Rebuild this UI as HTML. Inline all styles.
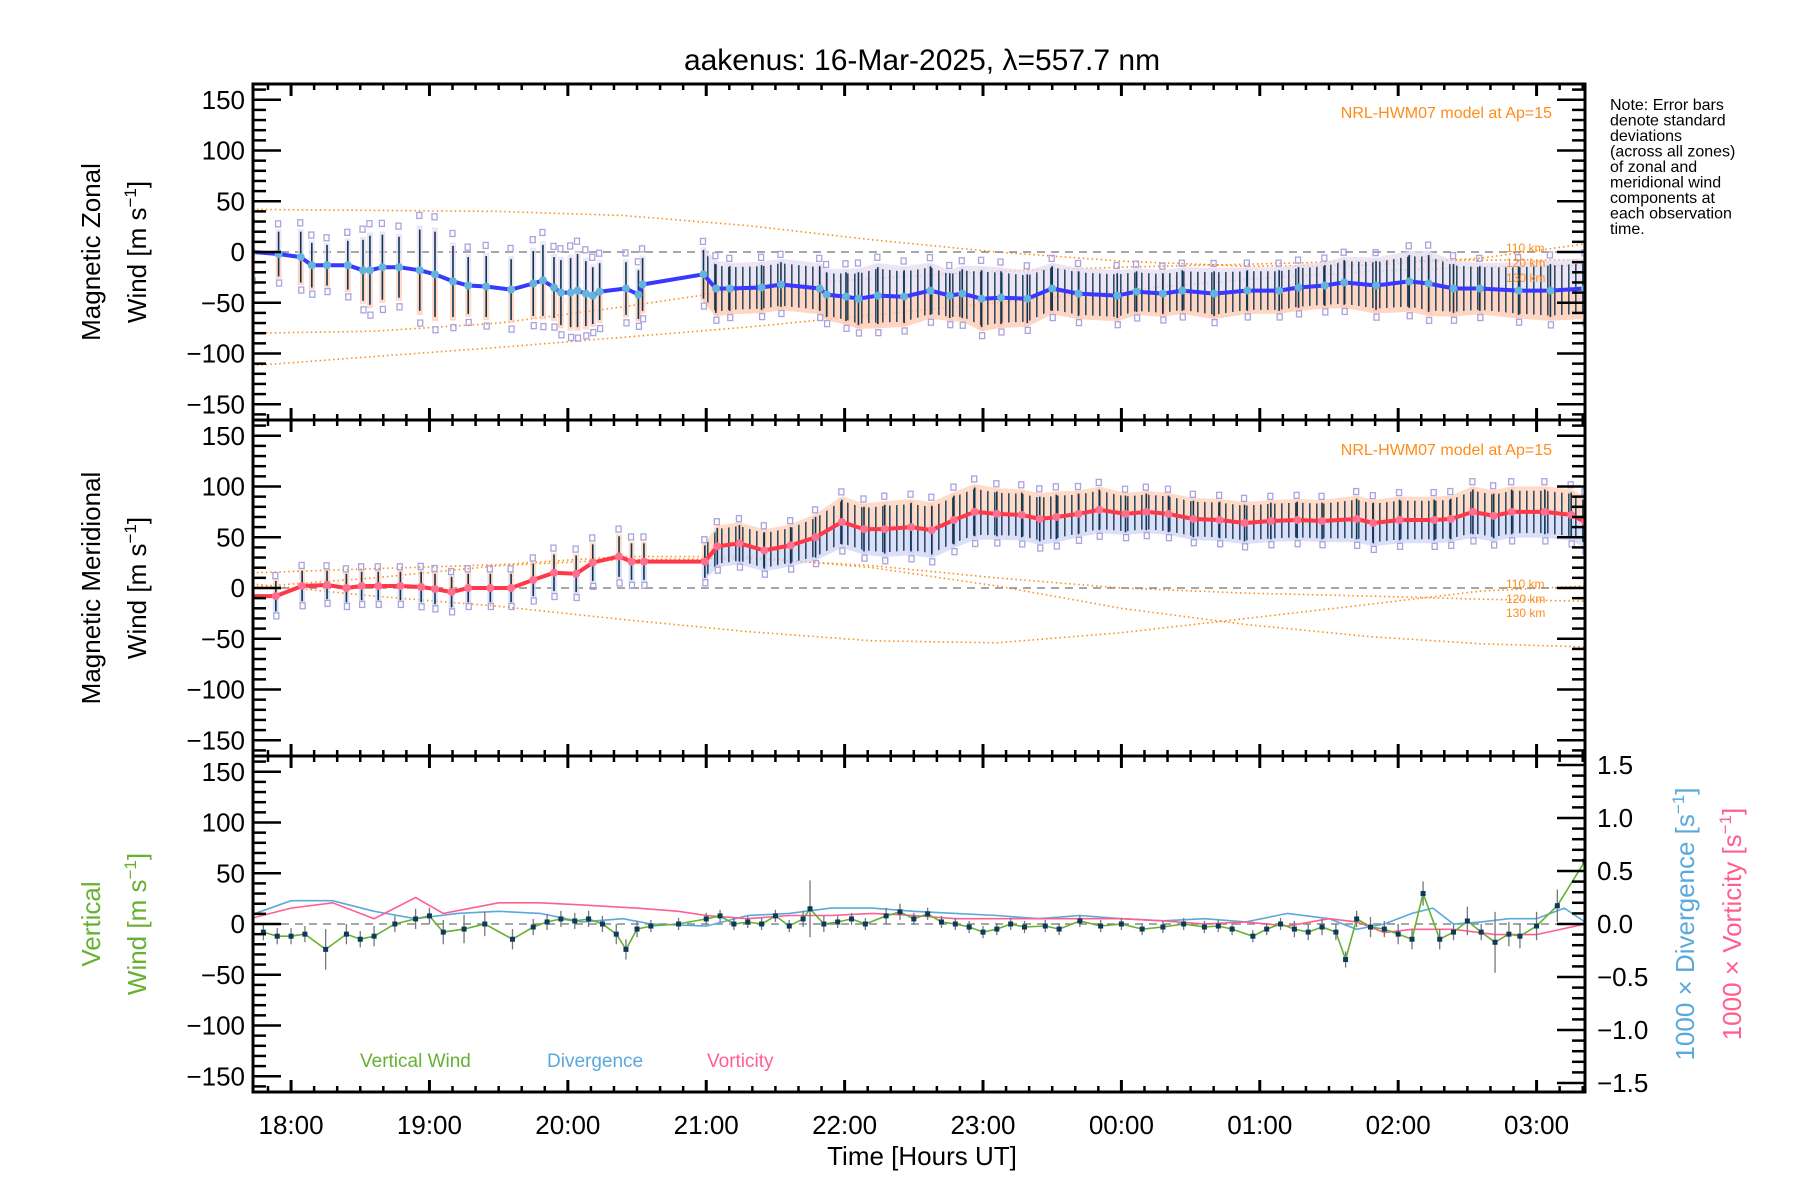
<!DOCTYPE html>
<html><head><meta charset="utf-8">
<style>
html,body{margin:0;padding:0;background:#fff;}
svg{display:block;font-family:"Liberation Sans","DejaVu Sans",sans-serif;}
</style></head>
<body>
<svg id="chart" width="1800" height="1200" viewBox="0 0 1800 1200" xmlns="http://www.w3.org/2000/svg">
<defs>
 <pattern id="barsPat" patternUnits="userSpaceOnUse" width="7" height="10">
  <rect x="0" y="0" width="1.6" height="10" fill="#0d3550"/>
 </pattern>
</defs>
<rect width="1800" height="1200" fill="#fff"/>
<text x="922" y="70" font-size="30" text-anchor="middle" fill="#000">aakenus: 16-Mar-2025, λ=557.7 nm</text>
<g id="plots"></g>
<text x="922" y="1165" font-size="26" text-anchor="middle">Time [Hours UT]</text>
<g font-size="26" text-anchor="middle">
 <text transform="translate(100,252) rotate(-90)">Magnetic Zonal</text>
 <text transform="translate(146,252) rotate(-90)">Wind [m s<tspan font-size="17" dy="-10">−1</tspan><tspan dy="10">]</tspan></text>
</g>
<g font-size="26" text-anchor="middle">
 <text transform="translate(100,588) rotate(-90)">Magnetic Meridional</text>
 <text transform="translate(146,588) rotate(-90)">Wind [m s<tspan font-size="17" dy="-10">−1</tspan><tspan dy="10">]</tspan></text>
</g>
<g font-size="26" text-anchor="middle" fill="#66b032">
 <text transform="translate(100,924) rotate(-90)">Vertical</text>
 <text transform="translate(146,924) rotate(-90)">Wind [m s<tspan font-size="17" dy="-10">−1</tspan><tspan dy="10">]</tspan></text>
</g>
<text font-size="26" text-anchor="middle" fill="#5aa9dc" transform="translate(1694,924) rotate(-90)">1000 × Divergence [s<tspan font-size="17" dy="-10">−1</tspan><tspan dy="10">]</tspan></text>
<text font-size="26" text-anchor="middle" fill="#ff5f8f" transform="translate(1741,924) rotate(-90)">1000 × Vorticity [s<tspan font-size="17" dy="-10">−1</tspan><tspan dy="10">]</tspan></text>
<g font-size="16" fill="#000">
 <text x="1610" y="110">Note: Error bars</text>
 <text x="1610" y="125.5">denote standard</text>
 <text x="1610" y="141">deviations</text>
 <text x="1610" y="156.5">(across all zones)</text>
 <text x="1610" y="172">of zonal and</text>
 <text x="1610" y="187.5">meridional wind</text>
 <text x="1610" y="203">components at</text>
 <text x="1610" y="218.5">each observation</text>
 <text x="1610" y="234">time.</text>
</g>
<text x="1552" y="118" font-size="16" text-anchor="end" fill="#ff8c1a">NRL-HWM07 model at Ap=15</text>
<text x="1552" y="455" font-size="16" text-anchor="end" fill="#ff8c1a">NRL-HWM07 model at Ap=15</text>
<g font-size="12" fill="#ff8c1a">
 <text x="1506" y="252">110 km</text><text x="1506" y="267">120 km</text><text x="1506" y="282">130 km</text>
</g>
<g font-size="12" fill="#ff8c1a">
 <text x="1506" y="588">110 km</text><text x="1506" y="603">120 km</text><text x="1506" y="617">130 km</text>
</g>
<g font-size="19">
 <text x="360" y="1067" fill="#66b032">Vertical Wind</text>
 <text x="547" y="1067" fill="#5aa9dc">Divergence</text>
 <text x="707" y="1067" fill="#ff5f8f">Vorticity</text>
</g>
</svg>
<script>
// ---------- data ----------
const hourTickLabels=["18:00","19:00","20:00","21:00","22:00","23:00","00:00","01:00","02:00","03:00"];
const hourTicks=[18,19,20,21,22,23,24,25,26,27];
const windTickValues=[150,100,50,0,-50,-100,-150];
const rightTickValues=[1.5,1.0,0.5,0.0,-0.5,-1.0,-1.5];

const zonalTimes=[17.72,17.91,18.07,18.15,18.26,18.41,18.52,18.57,18.66,18.78,18.93,19.04,19.17,19.28,19.41,19.59,19.75,19.82,19.90,19.95,20.02,20.07,20.13,20.18,20.23,20.42,20.51,20.54,20.98,21.07,21.17,21.40,21.54,21.82,21.87,22.01,22.10,22.24,22.43,22.62,22.76,22.85,22.99,23.13,23.32,23.50,23.69,23.97,24.11,24.30,24.44,24.67,24.91,25.14,25.28,25.47,25.61,25.84,26.08,26.22,26.40,26.59,26.87,27.10,27.35];
const zonalMean=[0,-2,-5,-13,-13,-13,-18,-18,-15,-15,-18,-22,-29,-33,-34,-37,-31,-28,-35,-40,-40,-38,-41,-43,-39,-36,-42,-32,-22,-36,-36,-35,-32,-36,-42,-44,-46,-43,-44,-38,-43,-41,-46,-45,-46,-36,-41,-43,-39,-41,-38,-41,-38,-38,-35,-33,-30,-33,-29,-31,-36,-36,-38,-38,-36];
const zonalSd=[22,22,25,22,20,24,30,34,32,30,40,42,35,28,30,30,32,35,30,32,34,36,32,28,28,26,24,26,24,24,22,22,22,22,22,24,26,28,26,24,22,24,28,26,24,22,22,22,20,20,20,22,20,20,20,20,22,24,26,28,24,22,24,26,26];

const meridTimes=[17.70,17.89,18.08,18.26,18.40,18.51,18.63,18.79,18.94,19.04,19.16,19.28,19.44,19.59,19.75,19.90,20.06,20.18,20.37,20.46,20.55,20.99,21.08,21.24,21.42,21.61,21.79,21.98,22.14,22.29,22.48,22.63,22.79,22.94,23.10,23.28,23.41,23.53,23.69,23.84,24.03,24.18,24.34,24.52,24.71,24.89,25.08,25.27,25.45,25.70,25.82,26.01,26.26,26.38,26.54,26.69,26.82,27.06,27.25,27.35];
const meridMean=[-8,-8,2,3,0,2,2,2,1,-1,-4,0,0,0,8,15,14,25,31,26,26,26,41,44,37,42,50,65,58,58,60,57,67,75,73,72,68,70,73,77,73,75,73,68,67,64,66,67,66,68,64,67,67,68,75,71,75,75,72,65];
const meridSd=[15,15,15,14,14,14,14,14,15,15,15,14,14,14,16,18,18,18,20,18,18,16,18,18,18,18,20,22,22,24,24,24,24,24,22,22,22,22,20,20,18,18,18,18,18,18,18,18,18,20,20,20,20,20,22,22,22,22,22,22];

const modelTimes=[17.72,18.6,19.5,20.4,21.3,22.2,23.1,24.0,24.9,25.8,26.6,27.35];
const zonalModel110=[42,41,40,36,26,12,0,-9,-14,-13,-6,8];
const zonalModel120=[-80,-78,-70,-54,-36,-26,-19,-15,-12,-9,-8,-8];
const zonalModel130=[-112,-103,-94,-84,-74,-62,-50,-38,-27,-19,-15,-13];
const meridModel110=[15,19,23,31,31,20,2,-20,-36,-48,-55,-58];
const meridModel120=[1,10,22,28,29,22,10,0,-5,-8,-11,-13];
const meridModel130=[4,-8,-18,-31,-43,-52,-54,-44,-30,-16,-3,2];

const vertTimes=[17.8,17.9,18.0,18.1,18.25,18.4,18.5,18.6,18.75,18.9,19.0,19.1,19.25,19.4,19.6,19.75,19.85,19.95,20.05,20.15,20.25,20.35,20.42,20.5,20.6,20.8,21.0,21.1,21.2,21.3,21.4,21.5,21.6,21.7,21.75,21.85,21.95,22.05,22.15,22.3,22.4,22.5,22.6,22.7,22.8,22.9,23.0,23.1,23.2,23.3,23.45,23.55,23.7,23.85,24.0,24.15,24.3,24.45,24.6,24.7,24.8,24.95,25.05,25.15,25.25,25.35,25.45,25.55,25.62,25.7,25.8,25.9,26.0,26.1,26.18,26.3,26.4,26.5,26.6,26.7,26.8,26.88,27.0,27.15,27.35];
const vertWind=[-8,-12,-12,-10,-25,-10,-15,-12,0,5,8,-8,-5,0,-15,-3,2,5,3,5,0,-10,-25,-5,-2,0,5,8,0,2,0,8,-2,5,15,0,2,5,0,8,12,5,10,2,0,-3,-8,-5,0,-3,-2,-5,3,-2,0,-5,-3,0,-3,-2,-5,-12,-5,0,-5,-8,-3,-8,-35,5,-3,-5,-10,-15,30,-15,-8,3,-8,-18,-10,-12,-2,18,62];
const vertSd=[8,8,8,8,20,10,8,10,8,10,8,12,14,12,10,8,8,8,8,8,8,10,10,8,6,6,6,6,6,6,6,6,6,8,28,8,6,6,6,8,8,6,6,6,6,6,6,6,6,6,6,6,6,6,6,6,6,6,6,6,6,6,6,6,8,8,8,8,8,8,10,8,10,10,12,10,8,14,8,30,12,12,14,16,12];

const divTimes=[17.7,18.0,18.3,18.6,18.9,19.2,19.5,19.8,20.1,20.4,20.6,21.0,21.3,21.6,21.9,22.2,22.5,22.8,23.1,23.4,23.7,24.0,24.3,24.6,24.9,25.2,25.5,25.7,25.9,26.1,26.25,26.4,26.6,26.8,27.0,27.2,27.35];
const divergence=[0.08,0.22,0.22,0.12,0.05,0.10,0.12,0.10,0.02,0.05,0.0,-0.02,0.08,0.10,0.15,0.15,0.12,0.10,0.08,0.05,0.08,0.05,0.03,0.05,0.02,0.10,0.05,-0.05,0.0,0.10,0.15,0.0,0.02,0.05,0.05,0.15,0.02];
const vortTimes=[17.7,18.0,18.3,18.6,18.9,19.1,19.5,19.8,20.1,20.5,20.8,21.0,21.3,21.6,21.9,22.2,22.5,22.8,23.1,23.4,23.7,24.0,24.3,24.6,24.9,25.2,25.5,25.7,25.9,26.1,26.4,26.7,27.0,27.35];
const vorticity=[0.05,0.15,0.20,0.05,0.25,0.10,0.20,0.20,0.18,0.15,0.12,0.08,0.05,0.08,0.08,0.10,0.08,0.05,0.05,0.05,0.05,0.05,0.03,0.0,0.02,-0.02,0.05,0.02,-0.08,-0.05,-0.05,-0.10,-0.10,0.0];

// ---------- scales ----------
const NS="http://www.w3.org/2000/svg";
const L=253,R=1585,T0=17.725,T1=27.35;
const panelTops=[84,420,756],PH=336;
function xs(h){return L+(h-T0)/(T1-T0)*(R-L);}
function ys(v,top){return top+PH/2-v*1.015;}
function yr(v){return 756+PH/2-v*106;}
const root=document.getElementById('plots');
function mk(tag,attrs,parent){const e=document.createElementNS(NS,tag);for(const k in attrs)e.setAttribute(k,attrs[k]);(parent||root).appendChild(e);return e;}
function pts(ts,vs,f){return ts.map((t,i)=>xs(t).toFixed(1)+","+f(vs[i]).toFixed(1)).join(" ");}

const clip=mk('clipPath',{id:'clipall'});
mk('rect',{x:L,y:84,width:R-L,height:1008},clip);

function modelCurve(vals,top,name){
  const p=mk('polyline',{points:pts(modelTimes,vals,v=>ys(v,top)),fill:'none',stroke:'#ff8c1a','stroke-width':1.6,'stroke-dasharray':'1.5 3','clip-path':'url(#clipall)'});
  
  
}
function bandPath(times,mean,sd,top,kUp,kDn,startH){
  const idx=times.map((t,i)=>i).filter(i=>times[i]>=startH);
  const up=idx.map(i=>xs(times[i]).toFixed(1)+","+ys(mean[i]+sd[i]*kUp,top).toFixed(1));
  const dn=idx.slice().reverse().map(i=>xs(times[i]).toFixed(1)+","+ys(mean[i]-sd[i]*kDn,top).toFixed(1));
  return up.concat(dn).join(" ");
}
function windPanel(top,times,mean,sd,lineColor,dotColor,prefix,bandTop,bandBot){
  const g=mk('g',{'clip-path':'url(#clipall)'});
  
  
  const z=mk('line',{x1:L,x2:R,y1:ys(0,top),y2:ys(0,top),stroke:'#888','stroke-width':1.5,'stroke-dasharray':'8 6'},g);
  
  
  // dense-region spread bands
  const bu=mk('polygon',{points:bandPath(times,mean,sd,top,1.15,0,20.9),fill:bandTop,opacity:0.75},g);
  
  
  const bl=mk('polygon',{points:bandPath(times,mean.map(v=>v),sd,top,0,1.15,20.9),fill:bandBot,opacity:0.75},g);
  
  
  times.forEach((t,i)=>{
    const x=xs(t);
    const r1=mk('rect',{x:x-3,y:ys(mean[i]+sd[i]*1.1,top),width:6,height:sd[i]*1.015*1.1,fill:bandTop,opacity:0.7},g);
    
    
    const r2=mk('rect',{x:x-3,y:ys(mean[i],top),width:6,height:sd[i]*1.015*1.1,fill:bandBot,opacity:0.7},g);
    
    
    const sq=mk('rect',{x:x-3,y:ys(mean[i]+sd[i]*1.35,top)-3,width:5,height:6,fill:'none',stroke:'#aaa3dd','stroke-width':1.3},g);
    
    
    const sq2=mk('rect',{x:x-2,y:ys(mean[i]-sd[i]*1.3,top)-3,width:5,height:6,fill:'none',stroke:'#aaa3dd','stroke-width':1.3},g);
    
    
  });
  const bars=mk('polygon',{points:bandPath(times,mean,sd,top,0.95,0.95,20.95),fill:'url(#barsPat)',opacity:0.85},g);
  
  
  times.forEach((t,i)=>{
    const x=xs(t);
    const eb=mk('line',{x1:x,x2:x,y1:ys(mean[i]+sd[i],top),y2:ys(mean[i]-sd[i],top),stroke:'#0d3550','stroke-width':1.6},g);
    
    
  });
  const ln=mk('polyline',{points:pts(times,mean,v=>ys(v,top)),fill:'none',stroke:lineColor,'stroke-width':4,'stroke-linejoin':'round'},g);
  
  
  times.forEach((t,i)=>{
    const c=mk('circle',{cx:xs(t),cy:ys(mean[i],top),r:4,fill:dotColor},g);
    
    
  });
}
modelCurve(zonalModel110,84,'zonal-model-110km');
modelCurve(zonalModel120,84,'zonal-model-120km');
modelCurve(zonalModel130,84,'zonal-model-130km');
windPanel(84,zonalTimes,zonalMean,zonalSd,'#3838ff','#62b4dc','zonal','#e6dcf0','#ffc8b0');
modelCurve(meridModel110,420,'meridional-model-110km');
modelCurve(meridModel120,420,'meridional-model-120km');
modelCurve(meridModel130,420,'meridional-model-130km');
windPanel(420,meridTimes,meridMean,meridSd,'#ff3848','#ff6f8f','meridional','#ffd0b8','#cfd4f4');

// vertical panel
(function(){
  const top=756;
  const g=mk('g',{'clip-path':'url(#clipall)'});
  
  
  const z=mk('line',{x1:L,x2:R,y1:ys(0,top),y2:ys(0,top),stroke:'#888','stroke-width':1.5,'stroke-dasharray':'8 6'},g);
  
  
  const dv=mk('polyline',{points:pts(divTimes,divergence,yr),fill:'none',stroke:'#5aa9dc','stroke-width':1.6},g);
  
  
  const vo=mk('polyline',{points:pts(vortTimes,vorticity,yr),fill:'none',stroke:'#ff5f8f','stroke-width':1.6},g);
  
  
  vertTimes.forEach((t,i)=>{
    const eb=mk('line',{x1:xs(t),x2:xs(t),y1:ys(vertWind[i]+vertSd[i],top),y2:ys(vertWind[i]-vertSd[i],top),stroke:'#777','stroke-width':1.3},g);
    
    
  });
  const vw=mk('polyline',{points:pts(vertTimes,vertWind,v=>ys(v,top)),fill:'none',stroke:'#66b032','stroke-width':1.6},g);
  
  
  vertTimes.forEach((t,i)=>{
    const p=mk('rect',{x:xs(t)-2.5,y:ys(vertWind[i],top)-2.5,width:5,height:5,fill:'#0d3a5c'},g);
    
    
  });
})();

// axes
const ax=mk('g',{stroke:'#000',fill:'none'});


panelTops.forEach((top,pi)=>{
  const fr=mk('rect',{x:L,y:top,width:R-L,height:PH,'stroke-width':3},ax);
  
  
  for(let v=-160;v<=160;v+=10){
    const major=v%50===0, len=major?28:13, y=ys(v,top);
    if(y<top+1||y>top+PH-1)continue;
    mk('line',{x1:L,x2:L+len,y1:y,y2:y,'stroke-width':2.5},ax);
    if(pi<2) mk('line',{x1:R,x2:R-len,y1:y,y2:y,'stroke-width':2.5},ax);
  }
  if(pi===2){
    for(let k=-15;k<=15;k++){
      const v=k/10,major=k%5===0,len=major?28:13,y=yr(v);
      if(y<top+1||y>top+PH-1)continue;
      mk('line',{x1:R,x2:R-len,y1:y,y2:y,'stroke-width':2.5},ax);
    }
  }
  for(let m=0;m<=58;m++){
    const h=17.6667+m/6; if(h<T0||h>T1)continue;
    const major=Math.abs(h-Math.round(h))<0.01,len=major?12:6,x=xs(h);
    mk('line',{x1:x,x2:x,y1:top,y2:top+len,'stroke-width':major?3:2.5},ax);
    mk('line',{x1:x,x2:x,y1:top+PH,y2:top+PH-len,'stroke-width':major?3:2.5},ax);
  }
  windTickValues.forEach(v=>{
    const t=mk('text',{x:245,y:ys(v,top)+9,'font-size':26,'text-anchor':'end',fill:'#000',stroke:'none'});
    
    
    t.textContent=(v<0?'−':'')+Math.abs(v);
  });
});
rightTickValues.forEach(v=>{
  const t=mk('text',{x:1597,y:yr(v)+9,'font-size':26,'text-anchor':'start',fill:'#000'});
  
  
  t.textContent=(v<0?'−':'')+Math.abs(v).toFixed(1);
});
hourTicks.forEach((h,i)=>{
  const t=mk('text',{x:xs(h),y:1134,'font-size':26,'text-anchor':'middle',fill:'#000'});
  
  
  t.textContent=hourTickLabels[i];
});
</script>
</body></html>
